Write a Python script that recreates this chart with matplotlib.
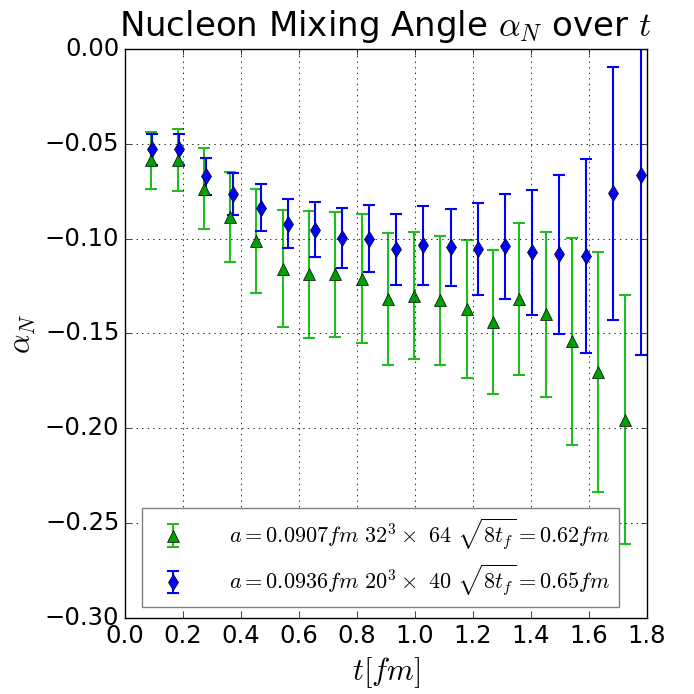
import matplotlib
matplotlib.use("Agg")
import matplotlib.pyplot as plt
import numpy as np

plt.style.use('classic')

# data
n = np.arange(1, 20)
a_green = 0.0907
a_blue = 0.0936
green_y = [-0.0588, -0.0588, -0.0737, -0.0886, -0.1014, -0.1158, -0.1188, -0.1188, -0.1211,
           -0.1319, -0.1302, -0.1325, -0.1372, -0.1439, -0.1318, -0.1400, -0.1542, -0.1702, -0.1953]
green_err = [0.0149, 0.0163, 0.0211, 0.0236, 0.0274, 0.0307, 0.0334, 0.0329, 0.0339,
             0.0346, 0.0335, 0.0339, 0.0364, 0.0380, 0.0401, 0.0432, 0.0543, 0.0632, 0.0658]
blue_y = [-0.0530, -0.0530, -0.0672, -0.0767, -0.0837, -0.0921, -0.0953, -0.0997, -0.1000,
          -0.1056, -0.1035, -0.1047, -0.1055, -0.1041, -0.1072, -0.1083, -0.1093, -0.0763, -0.0665]
blue_err = [0.0082, 0.0082, 0.0097, 0.0111, 0.0126, 0.0131, 0.0147, 0.0160, 0.0175,
            0.0187, 0.0208, 0.0204, 0.0243, 0.0275, 0.0329, 0.0418, 0.0511, 0.0667, 0.0946]
green_x = n * a_green
blue_x = n * a_blue
green_label = r'$a=0.0907fm\ 32^3\times\ 64\ \sqrt{8t_f}=0.62fm$'
blue_label = r'$a=0.0936fm\ 20^3\times\ 40\ \sqrt{8t_f}=0.65fm$'
xticks = [0.0, 0.2, 0.4, 0.6, 0.8, 1.0, 1.2, 1.4, 1.6, 1.8]
yticks = [0.00, -0.05, -0.10, -0.15, -0.20, -0.25, -0.30]

fig = plt.figure(figsize=(6.94, 6.94), dpi=100, facecolor='white')
ax = fig.add_axes([0.180, 0.109, 0.752, 0.821])
ax.set_facecolor('white')

ax.errorbar(green_x, green_y, yerr=green_err, fmt='^', color='#00a000', ecolor='#22bb22',
            mfc='#00a000', mec='black', ms=8, capsize=4, elinewidth=1.5, capthick=1.5,
            label=green_label)
ax.errorbar(blue_x, blue_y, yerr=blue_err, fmt='d', color='blue', ecolor='blue',
            mfc='blue', mec='black', ms=8, capsize=4, elinewidth=1.5, capthick=1.5,
            label=blue_label)

ax.set_xlim(0, 1.8)
ax.set_ylim(-0.30, 0.0)
ax.set_xticks(xticks)
ax.set_yticks(yticks)
ax.set_xticklabels(['%.1f' % v for v in xticks])
ax.set_yticklabels(['%.2f' % v if v == 0 else '\u2212%.2f' % abs(v) for v in yticks])
ax.tick_params(labelsize=17.5, direction='in', length=4, top=True, right=True)
ax.grid(True, linestyle=':', color='black', linewidth=0.6)

ax.set_title(r'Nucleon Mixing Angle $\alpha_N$ over $t$', fontsize=24.5, y=1.01)
ax.set_xlabel(r'$t[fm]$', fontsize=22)
ax.set_ylabel(r'$\alpha_N$', fontsize=22)

leg = ax.legend(loc='lower center', numpoints=1, fontsize=16, fancybox=False,
                frameon=True, handletextpad=1.5, bbox_to_anchor=(0.49, 0.0))
leg.get_frame().set_edgecolor('gray')

fig.savefig('out.png', dpi=100, facecolor='white')
